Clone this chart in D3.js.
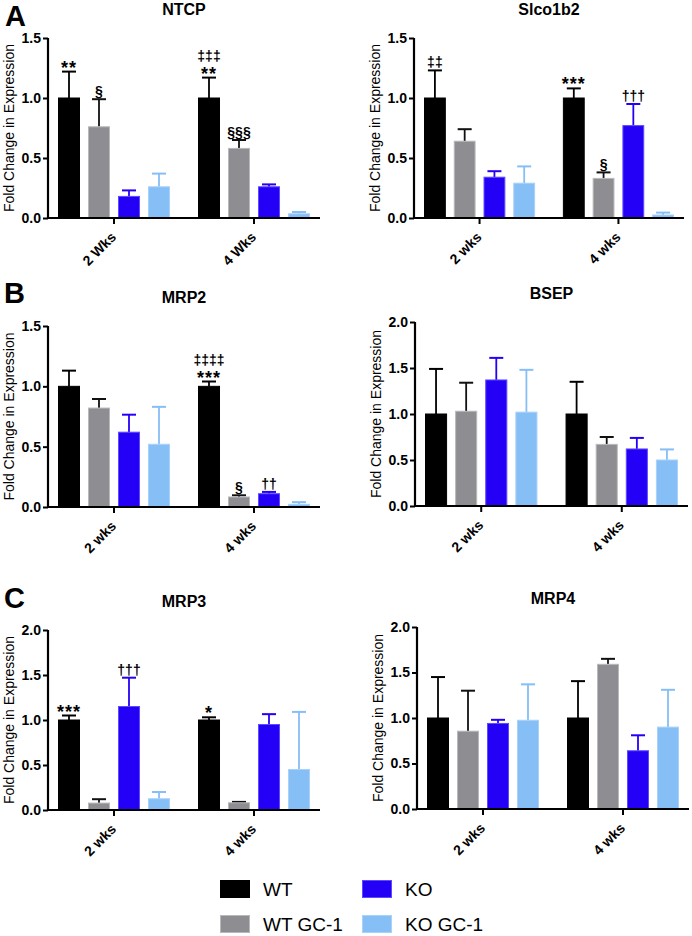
<!DOCTYPE html>
<html>
<head>
<meta charset="utf-8">
<script src="https://cdn.jsdelivr.net/npm/d3@7"></script>
<style>
  html, body { margin: 0; padding: 0; background: #fff; }
  svg { display: block; font-family: "Liberation Sans", Arial, Helvetica, sans-serif; }
</style>
</head>
<body>
<svg id="chart" width="692" height="936"></svg>
<script>
// ---------------- DATA ----------------
const seriesNames = ["WT", "WT GC-1", "KO", "KO GC-1"];
const timeLabelsA = ["2 Wks", "4 Wks"];
const timeLabels = ["2 wks", "4 wks"];
const panelTitles = ["NTCP", "Slco1b2", "MRP2", "BSEP", "MRP3", "MRP4"];
const panelLetters = ["A", "B", "C"];
const yTicks15 = [0, 0.5, 1.0, 1.5];
const yTicks20 = [0, 0.5, 1.0, 1.5, 2.0];
const yLabel = "Fold Change in Expression";

// means [2 wks, 4 wks] x [WT, WT GC-1, KO, KO GC-1]
const ntcpMean    = [[1.00, 0.76, 0.18, 0.26], [1.00, 0.58, 0.26, 0.035]];
const ntcpSem     = [[0.22, 0.23, 0.05, 0.11], [0.17, 0.07, 0.02, 0.015]];
const slcoMean    = [[1.00, 0.64, 0.34, 0.29], [1.00, 0.33, 0.77, 0.025]];
const slcoSem     = [[0.23, 0.10, 0.05, 0.14], [0.08, 0.05, 0.18, 0.02]];
const mrp2Mean    = [[1.00, 0.82, 0.62, 0.52], [1.00, 0.083, 0.11, 0.022]];
const mrp2Sem     = [[0.13, 0.075, 0.145, 0.31], [0.04, 0.014, 0.015, 0.018]];
const bsepMean    = [[1.00, 1.03, 1.37, 1.02], [1.00, 0.67, 0.62, 0.50]];
const bsepSem     = [[0.49, 0.31, 0.24, 0.46], [0.35, 0.08, 0.12, 0.115]];
const mrp3Mean    = [[1.00, 0.077, 1.15, 0.125], [1.00, 0.08, 0.95, 0.45]];
const mrp3Sem     = [[0.05, 0.043, 0.32, 0.075], [0.03, 0.01, 0.115, 0.64]];
const mrp4Mean    = [[1.00, 0.855, 0.94, 0.975], [1.00, 1.59, 0.64, 0.90]];
const mrp4Sem     = [[0.45, 0.445, 0.04, 0.395], [0.405, 0.06, 0.17, 0.41]];

// significance marks: [time index, series index, lines (top to bottom)]
const ntcpMarks = [[0, 0, ["**"]], [0, 1, ["§"]], [1, 0, ["‡‡‡", "**"]], [1, 1, ["§§§"]]];
const slcoMarks = [[0, 0, ["‡‡"]], [1, 0, ["***"]], [1, 1, ["§"]], [1, 2, ["†††"]]];
const mrp2Marks = [[1, 0, ["‡‡‡‡", "***"]], [1, 1, ["§"]], [1, 2, ["††"]]];
const bsepMarks = [];
const mrp3Marks = [[0, 0, ["***"]], [0, 2, ["†††"]], [1, 0, ["*"]]];
const mrp4Marks = [];

// ---------------- STYLE / LAYOUT ----------------
const fillColors   = ["#000000", "#8e8d92", "#2400f7", "#86bef6"];
const strokeColors = ["#000000", "#b9b8bc", "#5c4bff", "#a9d2fa"];
const errColors    = ["#000000", "#111111", "#2400f7", "#86bef6"];

const panels = [
  { title: panelTitles[0], mean: ntcpMean, sem: ntcpSem, marks: ntcpMarks, times: timeLabelsA, yMax: 1.5, ticks: yTicks15, x0: 48,  x1: 320, yTop: 38,  yBot: 218 },
  { title: panelTitles[1], mean: slcoMean, sem: slcoSem, marks: slcoMarks, times: timeLabels,  yMax: 1.5, ticks: yTicks15, x0: 414, x1: 684, yTop: 38,  yBot: 218 },
  { title: panelTitles[2], mean: mrp2Mean, sem: mrp2Sem, marks: mrp2Marks, times: timeLabels,  yMax: 1.5, ticks: yTicks15, x0: 48,  x1: 320, yTop: 326, yBot: 507 },
  { title: panelTitles[3], mean: bsepMean, sem: bsepSem, marks: bsepMarks, times: timeLabels,  yMax: 2.0, ticks: yTicks20, x0: 415, x1: 688, yTop: 322, yBot: 506 },
  { title: panelTitles[4], mean: mrp3Mean, sem: mrp3Sem, marks: mrp3Marks, times: timeLabels,  yMax: 2.0, ticks: yTicks20, x0: 48,  x1: 320, yTop: 630, yBot: 810 },
  { title: panelTitles[5], mean: mrp4Mean, sem: mrp4Sem, marks: mrp4Marks, times: timeLabels,  yMax: 2.0, ticks: yTicks20, x0: 417, x1: 689, yTop: 627, yBot: 809 }
];
const letterPos = [[5, 26], [4, 303], [4, 608]];

const svg = d3.select("#chart");

panels.forEach((p, pi) => {
  const g = svg.append("g");
  const y = d3.scaleLinear().domain([0, p.yMax]).range([p.yBot, p.yTop]);
  const xg = d3.scaleBand().domain(p.times).range([p.x0 + 10, p.x1 - 10]).paddingInner(0.2);
  const xs = d3.scaleBand().domain(seriesNames).range([0, xg.bandwidth()]).paddingInner(8 / 30);

  // bars
  p.times.forEach((t, ti) => {
    seriesNames.forEach((s, si) => {
      const m = p.mean[ti][si], e = p.sem[ti][si];
      const bx = xg(t) + xs(s), bw = xs.bandwidth();
      const cx = bx + bw / 2;
      // error bar (upper only)
      g.append("line").attr("x1", cx).attr("x2", cx)
        .attr("y1", y(m)).attr("y2", y(m + e))
        .attr("stroke", errColors[si]).attr("stroke-width", 1.8);
      g.append("line").attr("x1", cx - 7).attr("x2", cx + 7)
        .attr("y1", y(m + e)).attr("y2", y(m + e))
        .attr("stroke", errColors[si]).attr("stroke-width", 2);
      g.append("rect").attr("x", bx + 0.5).attr("y", y(m))
        .attr("width", bw - 1).attr("height", Math.max(0, y(0) - y(m)))
        .attr("fill", fillColors[si]).attr("stroke", strokeColors[si]).attr("stroke-width", 1);
    });
  });

  // significance marks
  p.marks.forEach(([ti, si, lines]) => {
    const t = p.times[ti], s = seriesNames[si];
    const cx = xg(t) + xs(s) + xs.bandwidth() / 2;
    const top = y(p.mean[ti][si] + p.sem[ti][si]);
    let base = top;
    for (let k = lines.length - 1; k >= 0; k--) {
      const txt = lines[k];
      const isStar = txt[0] === "*";
      const yy = isStar ? base + 2 : base - 3;
      g.append("text").attr("x", cx).attr("y", yy)
        .attr("text-anchor", "middle").attr("fill", "#000")
        .attr("font-size", isStar ? 18 : 14).attr("font-weight", "bold")
        .attr("letter-spacing", isStar ? 1 : 0)
        .text(txt);
      base = isStar ? base - 14 : base - 13;
    }
  });

  // y axis
  const yAxis = d3.axisLeft(y).tickValues(p.ticks).tickFormat(d3.format(".1f")).tickSize(5).tickPadding(2);
  const ya = g.append("g").attr("transform", `translate(${p.x0},0)`).call(yAxis);
  ya.select(".domain").attr("stroke", "#000").attr("stroke-width", 2.2).attr("d", `M0,${p.yTop}V${p.yBot + 1}`);
  ya.selectAll(".tick line").attr("stroke", "#000").attr("stroke-width", 2);
  ya.selectAll(".tick text").attr("font-size", 14).attr("font-weight", "bold").attr("fill", "#000")
    .attr("font-family", "Liberation Sans, Arial, sans-serif");

  // x axis
  const xAxis = d3.axisBottom(xg).tickSize(6).tickSizeOuter(0);
  const xa = g.append("g").attr("transform", `translate(0,${p.yBot})`).call(xAxis);
  xa.select(".domain").attr("stroke", "#000").attr("stroke-width", 2.2).attr("d", `M${p.x0 - 1},0H${p.x1}`);
  xa.selectAll(".tick line").attr("stroke", "#000").attr("stroke-width", 2);
  xa.selectAll(".tick text")
    .attr("font-size", 14).attr("font-weight", "bold").attr("fill", "#000")
    .attr("font-family", "Liberation Sans, Arial, sans-serif")
    .attr("text-anchor", "end")
    .attr("dy", null).attr("y", null)
    .attr("transform", "translate(3,20) rotate(-45)");

  // y label
  g.append("text")
    .attr("transform", `translate(${p.x0 - 34},${(p.yTop + p.yBot) / 2}) rotate(-90)`)
    .attr("text-anchor", "middle").attr("font-size", 14).attr("fill", "#000")
    .text(yLabel);

  // title
  g.append("text").attr("x", (p.x0 + p.x1) / 2).attr("y", p.yTop - 23)
    .attr("text-anchor", "middle").attr("font-size", 16).attr("font-weight", "bold")
    .text(p.title);
});

// panel letters
panelLetters.forEach((L, i) => {
  svg.append("text").attr("x", letterPos[i][0]).attr("y", letterPos[i][1])
    .attr("font-size", 29).attr("font-weight", "bold").text(L);
});

// legend
const legendPos = [[220, 880], [220, 915], [362, 880], [362, 915]];
seriesNames.forEach((s, i) => {
  const [lx, ly] = legendPos[i];
  svg.append("rect").attr("x", lx + 0.5).attr("y", ly + 0.5).attr("width", 29).attr("height", 17)
    .attr("fill", fillColors[i]).attr("stroke", strokeColors[i]).attr("stroke-width", 1);
  svg.append("text").attr("x", lx + 43).attr("y", ly + 16)
    .attr("font-size", 19).attr("fill", "#000").text(s);
});
</script>
</body>
</html>
